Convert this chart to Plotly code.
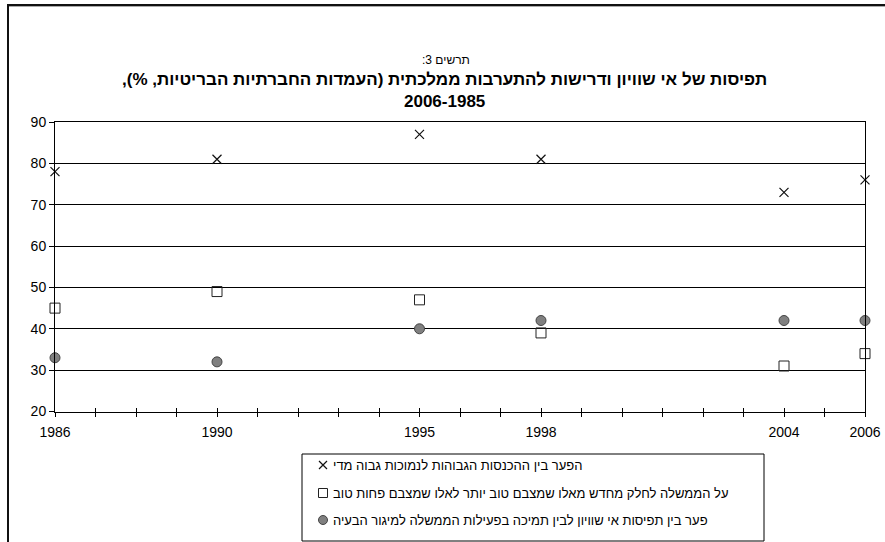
import plotly.graph_objects as go

# ---- data ----
years = [1986, 1990, 1995, 1998, 2004, 2006]
gap_too_high = [78, 81, 87, 81, 73, 76]
gov_redistribute = [45, 49, 47, 39, 31, 34]
gap_perception_support = [33, 32, 40, 42, 42, 42]

series_names = [
    "הפער בין ההכנסות הגבוהות לנמוכות גבוה מדי",
    "על הממשלה לחלק מחדש מאלו שמצבם טוב יותר לאלו שמצבם פחות טוב",
    "פער בין תפיסות אי שוויון לבין תמיכה בפעילות הממשלה למיגור הבעיה",
]
title_small = "תרשים 3:"
title_line1 = "תפיסות של אי שוויון ודרישות להתערבות ממלכתית (העמדות החברתיות הבריטיות, %),"
title_line2 = "2006-1985"

all_years = list(range(1986, 2007))
tick_text = [str(y) if y in years else "" for y in all_years]

RLM = "\u200f"


def rtl(s):
    # right-to-left paragraph direction, as in the original Hebrew chart
    return RLM + s + RLM


FONT = "Arial, Liberation Sans, DejaVu Sans, sans-serif"
W, H = 885, 542
PX0, PX1, PY0, PY1 = 55, 865, 122, 411.5   # plot area in pixels


def fx(p):
    return p / W


def fy(p):
    return (H - p) / H


fig = go.Figure()

marker_styles = [
    dict(symbol="x-thin", size=9, line=dict(color="#111", width=1.2)),
    dict(symbol="square-open", size=10, color="#222", line=dict(width=1)),
    dict(symbol="circle", size=10, color="#808080", line=dict(color="#444", width=1)),
]
for vals, name, ms in zip([gap_too_high, gov_redistribute, gap_perception_support],
                          series_names, marker_styles):
    fig.add_trace(go.Scatter(x=years, y=vals, mode="markers", name=name, marker=ms,
                             cliponaxis=False, showlegend=False))

# invisible trace carrying the overlay axis used for the crossing tick marks
fig.add_trace(go.Scatter(x=[all_years[0], all_years[-1]], y=[20, 20], xaxis="x2",
                         mode="markers", marker=dict(opacity=0), showlegend=False,
                         hoverinfo="skip"))

# legend (box, symbols, texts)
leg_x0, leg_x1, leg_y0, leg_y1 = 302, 764, 454, 541
leg_sym_x, leg_text_x = 323, 331
leg_text_y = [465, 493, 520]
for ms, ty in zip(marker_styles, leg_text_y):
    m = dict(ms)
    m["size"] = ms["size"] - 1
    fig.add_trace(go.Scatter(x=[(leg_sym_x - leg_x0) / (leg_x1 - leg_x0)],
                             y=[(leg_y1 - ty) / (leg_y1 - leg_y0)],
                             xaxis="x3", yaxis="y3", mode="markers",
                             marker=m, showlegend=False, hoverinfo="skip", cliponaxis=False))

fig.update_layout(
    autosize=True,
    margin=dict(l=0, r=0, t=0, b=0, autoexpand=False),
    paper_bgcolor="white", plot_bgcolor="white",
    font=dict(family=FONT, size=13, color="#000"),
    xaxis=dict(domain=[fx(PX0), fx(PX1)], anchor="y",
               range=[1986, 2006], tickvals=all_years, ticktext=tick_text,
               ticks="outside", ticklen=4, tickcolor="#000", showgrid=False,
               showline=True, linecolor="#000", linewidth=1, mirror=True,
               zeroline=False, ticklabelstandoff=4,
               tickfont=dict(size=14, family=FONT)),
    xaxis2=dict(range=[1986, 2006], overlaying="x", anchor="y", side="bottom",
                tickvals=all_years, ticks="inside", ticklen=4, tickcolor="#000",
                showticklabels=False, showgrid=False, showline=False, zeroline=False),
    yaxis=dict(domain=[fy(PY1), fy(PY0)], anchor="x",
               range=[20, 90], dtick=10, tick0=20, ticks="outside", ticklen=5,
               tickcolor="#000", showgrid=True, gridcolor="#000", gridwidth=1,
               showline=True, linecolor="#000", linewidth=1, mirror=True,
               zeroline=False, tickfont=dict(size=14, family=FONT)),
    xaxis3=dict(domain=[fx(leg_x0), fx(leg_x1)], range=[0, 1], anchor="y3",
                visible=False, fixedrange=True),
    yaxis3=dict(domain=[fy(leg_y1), fy(leg_y0)], range=[0, 1], anchor="x3",
                visible=False, fixedrange=True),
)

shapes = [
    dict(type="rect", xref="paper", yref="paper", x0=fx(leg_x0), x1=fx(leg_x1),
         y0=fy(leg_y1), y1=fy(leg_y0), line=dict(color="#000", width=1)),
    dict(type="line", xref="paper", yref="paper", x0=fx(8), x1=fx(8),
         y0=fy(4), y1=0, line=dict(color="#111", width=2)),
    dict(type="line", xref="paper", yref="paper", x0=fx(7), x1=1,
         y0=fy(5), y1=fy(5), line=dict(color="#111", width=2)),
    dict(type="line", xref="paper", yref="paper", x0=fx(9), x1=1,
         y0=fy(6.5), y1=fy(6.5), line=dict(color="#aaa", width=1)),
]
fig.update_layout(shapes=shapes)

annotations = [
    dict(text=rtl(title_small), xref="paper", yref="paper", x=fx(446), y=fy(60),
         showarrow=False, font=dict(size=12, family=FONT), xanchor="center", yanchor="middle"),
    dict(text="<b>" + rtl(title_line1) + "<br>" + title_line2 + "</b>", xref="paper",
         yref="paper", x=fx(444), y=fy(90.5), showarrow=False, font=dict(size=17, family=FONT),
         xanchor="center", yanchor="middle"),
]
for name, ty in zip(series_names, leg_text_y):
    annotations.append(dict(text=rtl(name), xref="paper", yref="paper", x=fx(leg_text_x),
                            y=fy(ty), showarrow=False, xanchor="left", yanchor="middle",
                            font=dict(size=13, family=FONT)))
fig.update_layout(annotations=annotations)

# the figure div is pinned to the page's top-left corner (no body margin offset)
fig.write_html("out.html",
               default_width="885px;position:absolute;left:0px;top:0px",
               default_height="542px")
